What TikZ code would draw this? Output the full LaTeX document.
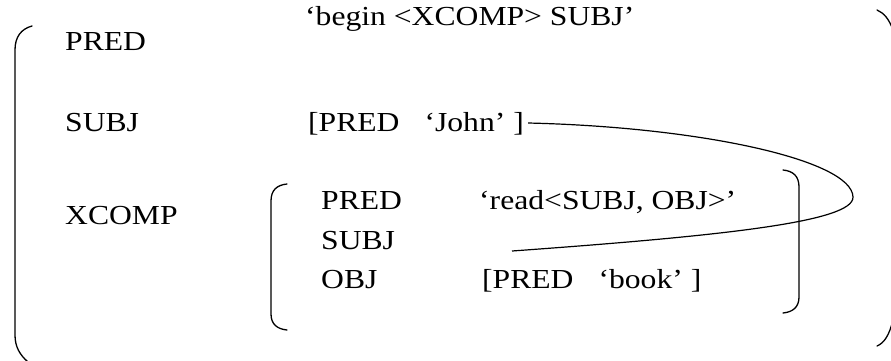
\documentclass[tikz,border=0pt]{standalone}
\usepackage{fontspec}
\setmainfont{Liberation Serif}[FakeStretch=1.15]
\begin{document}
\begin{tikzpicture}[x=1pt,y=-1pt,
  lbl/.style={anchor=base west,inner sep=0pt,font=\fontsize{27.5}{32}\selectfont},
  brk/.style={line width=1.3pt,line cap=round},
  link/.style={line width=1.2pt}]
\useasboundingbox (0,0) rectangle (891,360);

% outer f-structure bracket
\draw[brk] (32,26) .. controls (21,29) and (15,37) .. (15,50) -- (15,335)
  .. controls (15,347) and (20,355) .. (28,362);
\draw[brk] (877,10) .. controls (884,13) and (889,19) .. (893,30);
\draw[brk] (877,346) .. controls (884,343) and (889,336) .. (893,320);

% outer attributes
\node[lbl] (pred)  at (65,50)  {PRED};
\node[lbl] (begin) at (305,25) {‘begin <XCOMP> SUBJ’};
\node[lbl] (subj)  at (65,131) {SUBJ};
\node[lbl] (john)  at (308,131) {[PRED\hspace{25pt}‘John’ ]};
\node[lbl] (xcomp) at (65,224) {XCOMP};

% embedded XCOMP bracket
\draw[brk] (287,184) .. controls (277,185) and (271,190) .. (271,201) -- (271,314)
  .. controls (271,324) and (277,329) .. (287,330);
\draw[brk] (783,170) .. controls (793,171) and (799,176) .. (799,187) -- (799,297)
  .. controls (799,307) and (793,312) .. (783,313);

% embedded attributes
\node[lbl] (ipred) at (321,209) {PRED};
\node[lbl] (read)  at (479,209) {‘read<SUBJ, OBJ>’};
\node[lbl] (isubj) at (321,249) {SUBJ};
\node[lbl] (iobj)  at (321,288) {OBJ};
\node[lbl] (book)  at (482,288) {[PRED\hspace{25pt}‘book’ ]};

% structure-sharing link between the two SUBJ values
\coordinate (gap) at (512,251);
\coordinate (turn) at (853,197);
\draw[link] ([xshift=4pt,yshift=8pt]john.base east) .. controls (700,127) and (852,160) .. (turn)
  .. controls (854,222) and (720,236) .. (gap);
\end{tikzpicture}
\end{document}
